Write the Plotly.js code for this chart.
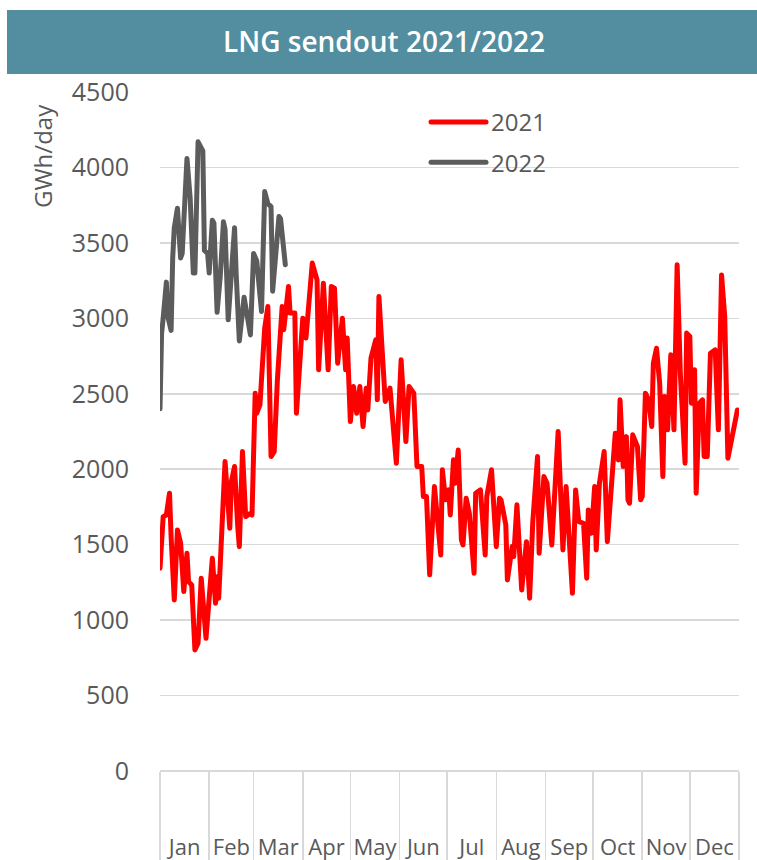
<!DOCTYPE html>
<html><head><meta charset="utf-8">
<script src="https://cdn.plot.ly/plotly-3.0.1.min.js"></script>
<style>
html,body{margin:0;padding:0;background:#fff;}
#chart{width:757px;height:860px;}
.js-line{stroke-linejoin:round;stroke-linecap:round;}
</style></head><body><div id="chart"></div>
<script>
// Day index within the year (0 = 1 January) and daily LNG sendout, GWh/day
const days2021 = [0,2,4,6,7,9,11,13,15,17,18,20,22,24,26,29,33,35,36,37,41,44,45,47,49,50,52,54,57,58,60,61,63,66,68,70,72,74,77,78,81,82,85,86,88,90,92,96,99,100,103,106,108,110,112,115,117,118,120,122,124,126,128,130,131,133,136,137,138,142,145,149,152,155,157,160,162,165,166,168,170,173,177,178,180,182,183,185,186,188,190,191,193,195,198,199,202,205,206,209,212,214,215,218,219,222,223,225,228,231,233,235,238,239,242,244,247,249,251,254,256,260,262,264,267,269,270,272,274,275,277,280,282,285,287,289,290,292,294,295,296,298,301,303,304,306,308,310,311,313,315,317,318,320,322,324,326,328,331,332,334,335,337,338,340,342,343,345,347,350,352,354,356,358,360,362,364];
const sendout2021 = [1344,1686,1697,1841,1553,1134,1598,1510,1189,1443,1255,1233,802,847,1278,880,1410,1112,1288,1145,2051,1609,1918,2018,1620,1487,2117,1686,1708,1697,2504,2371,2427,2935,3078,2084,2117,2592,3078,2924,3211,3035,3035,2371,2681,3001,2869,3366,3255,2659,3233,2659,3211,3200,2703,3001,2659,2869,2316,2548,2371,2548,2283,2537,2393,2736,2858,2460,3145,2449,2537,2040,2725,2183,2548,2504,2018,2018,1819,1819,1300,1885,1432,1996,1797,1863,1697,2062,1907,2128,1532,1498,1808,1708,1311,1841,1863,1432,1819,1996,1487,1808,1797,1631,1266,1487,1421,1764,1200,1520,1145,1650,2084,1443,1951,1907,1498,1863,2250,1465,1885,1178,1863,1653,1642,1278,1730,1576,1885,1465,1907,2117,1520,1951,2238,2062,2460,2018,2216,1797,1775,2228,2150,1797,1820,2504,2460,2283,2703,2802,2570,1951,2482,2261,2758,2261,3355,2637,2040,2902,2880,2438,2659,1841,2438,2460,2084,2084,2769,2791,2261,3288,3012,2073,2173,2305,2393];
const days2022 = [0,1,2,4,5,7,8,9,11,13,14,17,19,21,22,24,26,27,28,30,31,33,34,36,38,40,41,43,45,47,48,50,53,55,57,59,61,64,66,68,70,71,72,75,76,79];
const sendout2022 = [2400,2900,3000,3240,3010,2920,3400,3600,3730,3400,3430,4060,3800,3300,3300,4170,4130,4110,3450,3430,3300,3650,3630,3040,3280,3640,3590,2990,3300,3600,3300,2850,3140,3010,2890,3430,3380,3045,3840,3760,3740,3180,3300,3675,3660,3355];
const seriesNames = ['2021','2022'];
const chartTitle = 'LNG sendout 2021/2022';
const yTitle = 'GWh/day';

function toDate(d){ const t = new Date(Date.UTC(2021,0,1+d)); return t.toISOString().slice(0,10); }

const font = 'Open Sans, Noto Sans, sans-serif';
const textCol = '#595959';
const grid = '#d9d9d9';

const traces = [
  {x: days2021.map(toDate), y: sendout2021, name: seriesNames[0], type:'scatter', mode:'lines',
   line:{color:'#ff0000', width:5}, legendgroup:'a', hoverinfo:'skip'},
  {x: days2022.map(toDate), y: sendout2022, name: seriesNames[1], type:'scatter', mode:'lines',
   line:{color:'#5c5c5c', width:5}, legendgroup:'b', hoverinfo:'skip'}
];

const L = 160, R = 739, T = 92, B = 771, W = 757, H = 860;
const pw = R - L, ph = B - T;
const px = x => (x - L) / pw, py = y => (B - y) / ph;

const layout = {
  width: W, height: H,
  margin: {l: L, r: W - R, t: T, b: H - B, pad: 0},
  paper_bgcolor:'#ffffff', plot_bgcolor:'#ffffff',
  showlegend: true,
  title: {text: chartTitle, x: 384 / W, xanchor:'center', y: 1 - 42 / H, yanchor:'middle',
          font:{family: font, size: 28, color:'#ffffff', weight: 600}},
  xaxis: {type:'date', range:['2021-01-01','2022-01-01'], dtick:'M1', tick0:'2021-01-01',
          tickformat:'%b', ticklabelmode:'period', ticks:'outside', ticklen: H - B, tickwidth:1.5,
          tickcolor: grid, showgrid:false, zeroline:false, showline:false,
          ticklabelstandoff: -32,
          tickfont:{family: font, size: 22, color: textCol}, fixedrange:true},
  yaxis: {range:[0,4500], dtick:500, tick0:0, showgrid:true, gridcolor: grid, gridwidth:1.5,
          zeroline:true, zerolinecolor: grid, zerolinewidth:1.5, ticks:'', ticklabelstandoff: 30,
          tickfont:{family: font, size: 25, color: textCol}, fixedrange:true},
  legend: {x: px(426), xanchor:'left', y: py(100), yanchor:'top', bgcolor:'rgba(0,0,0,0)',
           font:{family: font, size: 24, color: textCol}, tracegroupgap: 6, traceorder:'grouped',
           itemwidth: 55},
  shapes: [
    {type:'rect', xref:'paper', yref:'paper', x0: px(7), x1: px(757), y0: py(74), y1: py(10),
     fillcolor:'#528e9f', line:{width:0}, layer:'above'}
  ],
  annotations: [
    {text: yTitle, xref:'paper', yref:'paper', x: px(42), y: py(156), xanchor:'center', yanchor:'middle',
     textangle:-90, showarrow:false, font:{family: font, size: 24, color: textCol}}
  ]
};

Plotly.newPlot('chart', traces, layout, {staticPlot:true, displayModeBar:false});
</script></body></html>
